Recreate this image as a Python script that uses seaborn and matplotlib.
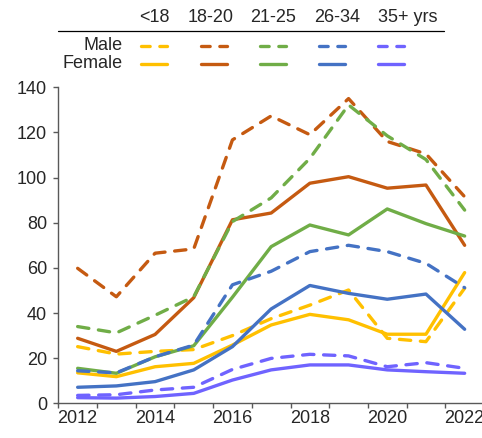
import matplotlib
matplotlib.use("Agg")
import matplotlib.pyplot as plt
from matplotlib.lines import Line2D
import seaborn as sns
import numpy as np
import pandas as pd

years = list(range(2012, 2023))
age_groups = ["<18", "18-20", "21-25", "26-34", "35+ yrs"]
group_colors = ["#FFC000", "#C55A11", "#70AD47", "#4472C4", "#6F63FF"]

male_u18 = [25.1, 21.8, 23.0, 23.8, 30.0, 37.5, 43.5, 50.2, 28.8, 27.3, 51.0]
female_u18 = [13.5, 11.8, 16.2, 17.7, 25.8, 34.7, 39.4, 37.0, 30.6, 30.6, 57.9]
male_18_20 = [59.8, 47.2, 66.5, 68.4, 116.7, 127.3, 119.0, 135.0, 116.0, 110.5, 91.5]
female_18_20 = [28.8, 23.0, 30.5, 46.8, 81.3, 84.3, 97.5, 100.4, 95.3, 96.7, 70.0]
male_21_25 = [34.0, 31.2, 39.0, 47.2, 80.5, 91.0, 108.5, 132.2, 118.5, 108.0, 85.6]
female_21_25 = [15.5, 13.3, 20.6, 25.5, 47.0, 69.4, 79.0, 74.6, 86.1, 79.6, 74.1]
male_26_34 = [14.4, 13.5, 20.6, 25.8, 52.5, 58.5, 67.2, 70.0, 67.2, 62.0, 51.2]
female_26_34 = [7.1, 7.7, 9.6, 14.8, 25.1, 41.8, 52.2, 48.7, 46.1, 48.4, 32.8]
male_35 = [3.5, 3.8, 5.9, 7.1, 15.0, 19.9, 21.7, 21.0, 16.2, 18.0, 15.5]
female_35 = [2.5, 2.3, 3.0, 4.4, 10.3, 14.8, 17.0, 17.0, 14.8, 14.0, 13.3]

male_series = [male_u18, male_18_20, male_21_25, male_26_34, male_35]
female_series = [female_u18, female_18_20, female_21_25, female_26_34, female_35]

rows = []
for grp, m_vals, f_vals in zip(age_groups, male_series, female_series):
    for yr, m, f in zip(years, m_vals, f_vals):
        rows.append({"year": yr, "value": m, "group": grp, "sex": "Male"})
        rows.append({"year": yr, "value": f, "group": grp, "sex": "Female"})
df = pd.DataFrame(rows)

sns.set_style("white")
plt.rcParams["font.family"] = ["Liberation Sans", "DejaVu Sans"]

W, H = 482, 438
fig = plt.figure(figsize=(W / 100, H / 100), dpi=100)


def fx(x):
    return x / W


def fy(y):
    return 1 - y / H


# axes in pixel geometry (right edge runs past the figure as in the reference)
ax_left, ax_right, ax_top, ax_bot = 58.3, 484.0, 87.3, 403.3
ax = fig.add_axes([fx(ax_left), fy(ax_bot), fx(ax_right - ax_left), (ax_bot - ax_top) / H])

lw = 2.4
dash = (3.4, 2.9)
sns.lineplot(
    data=df, x="year", y="value", hue="group", style="sex",
    hue_order=age_groups, palette=group_colors,
    style_order=["Male", "Female"], dashes={"Male": dash, "Female": ""},
    linewidth=lw, solid_capstyle="round", dash_capstyle="round",
    legend=False, ax=ax,
)

ax.set_xlim(2011.5, 2022.5)
ax.set_ylim(0, 140)
ax.set_yticks(np.arange(0, 141, 20))
ax.set_xticks(np.arange(2011.5, 2023, 1))
ax.set_xticklabels([])
ax.set_xticks(np.arange(2012, 2023, 2), minor=True)
ax.set_xticklabels([str(y) for y in range(2012, 2023, 2)], minor=True)
ax.tick_params(axis="x", which="major", direction="out", length=3.6, width=1, color="#595959", bottom=True)
ax.tick_params(axis="x", which="minor", length=0, pad=5, labelsize=13)
ax.tick_params(axis="y", direction="out", length=3.6, width=1, color="#595959", left=True, labelsize=13, pad=4.5)
ax.set_xlabel("")
ax.set_ylabel("")
for side in ["top", "right"]:
    ax.spines[side].set_visible(False)
for side in ["left", "bottom"]:
    ax.spines[side].set_color("#595959")
    ax.spines[side].set_linewidth(1)

# custom legend table at the top
header_x = [154, 211, 273, 337, 408]
sample_x = [154, 214, 273, 332, 391]
for name, hx in zip(age_groups, header_x):
    fig.text(fx(hx), fy(18), name, ha="center", va="center", fontsize=13)
fig.add_artist(Line2D([fx(57.7), fx(443.5)], [fy(30.7), fy(30.7)], color="black", lw=0.9))
fig.text(fx(122.5), fy(45), "Male", ha="right", va="center", fontsize=13)
fig.text(fx(122.5), fy(63), "Female", ha="right", va="center", fontsize=13)
half = 13
for cx, col in zip(sample_x, group_colors):
    fig.add_artist(Line2D([fx(cx - half), fx(cx + half)], [fy(46), fy(46)], color=col, lw=lw,
                          linestyle=(0, (2.6, 2.9)), dash_capstyle="round"))
    fig.add_artist(Line2D([fx(cx - half), fx(cx + half)], [fy(64), fy(64)], color=col, lw=lw,
                          solid_capstyle="round"))

fig.savefig("out.png", dpi=100)
